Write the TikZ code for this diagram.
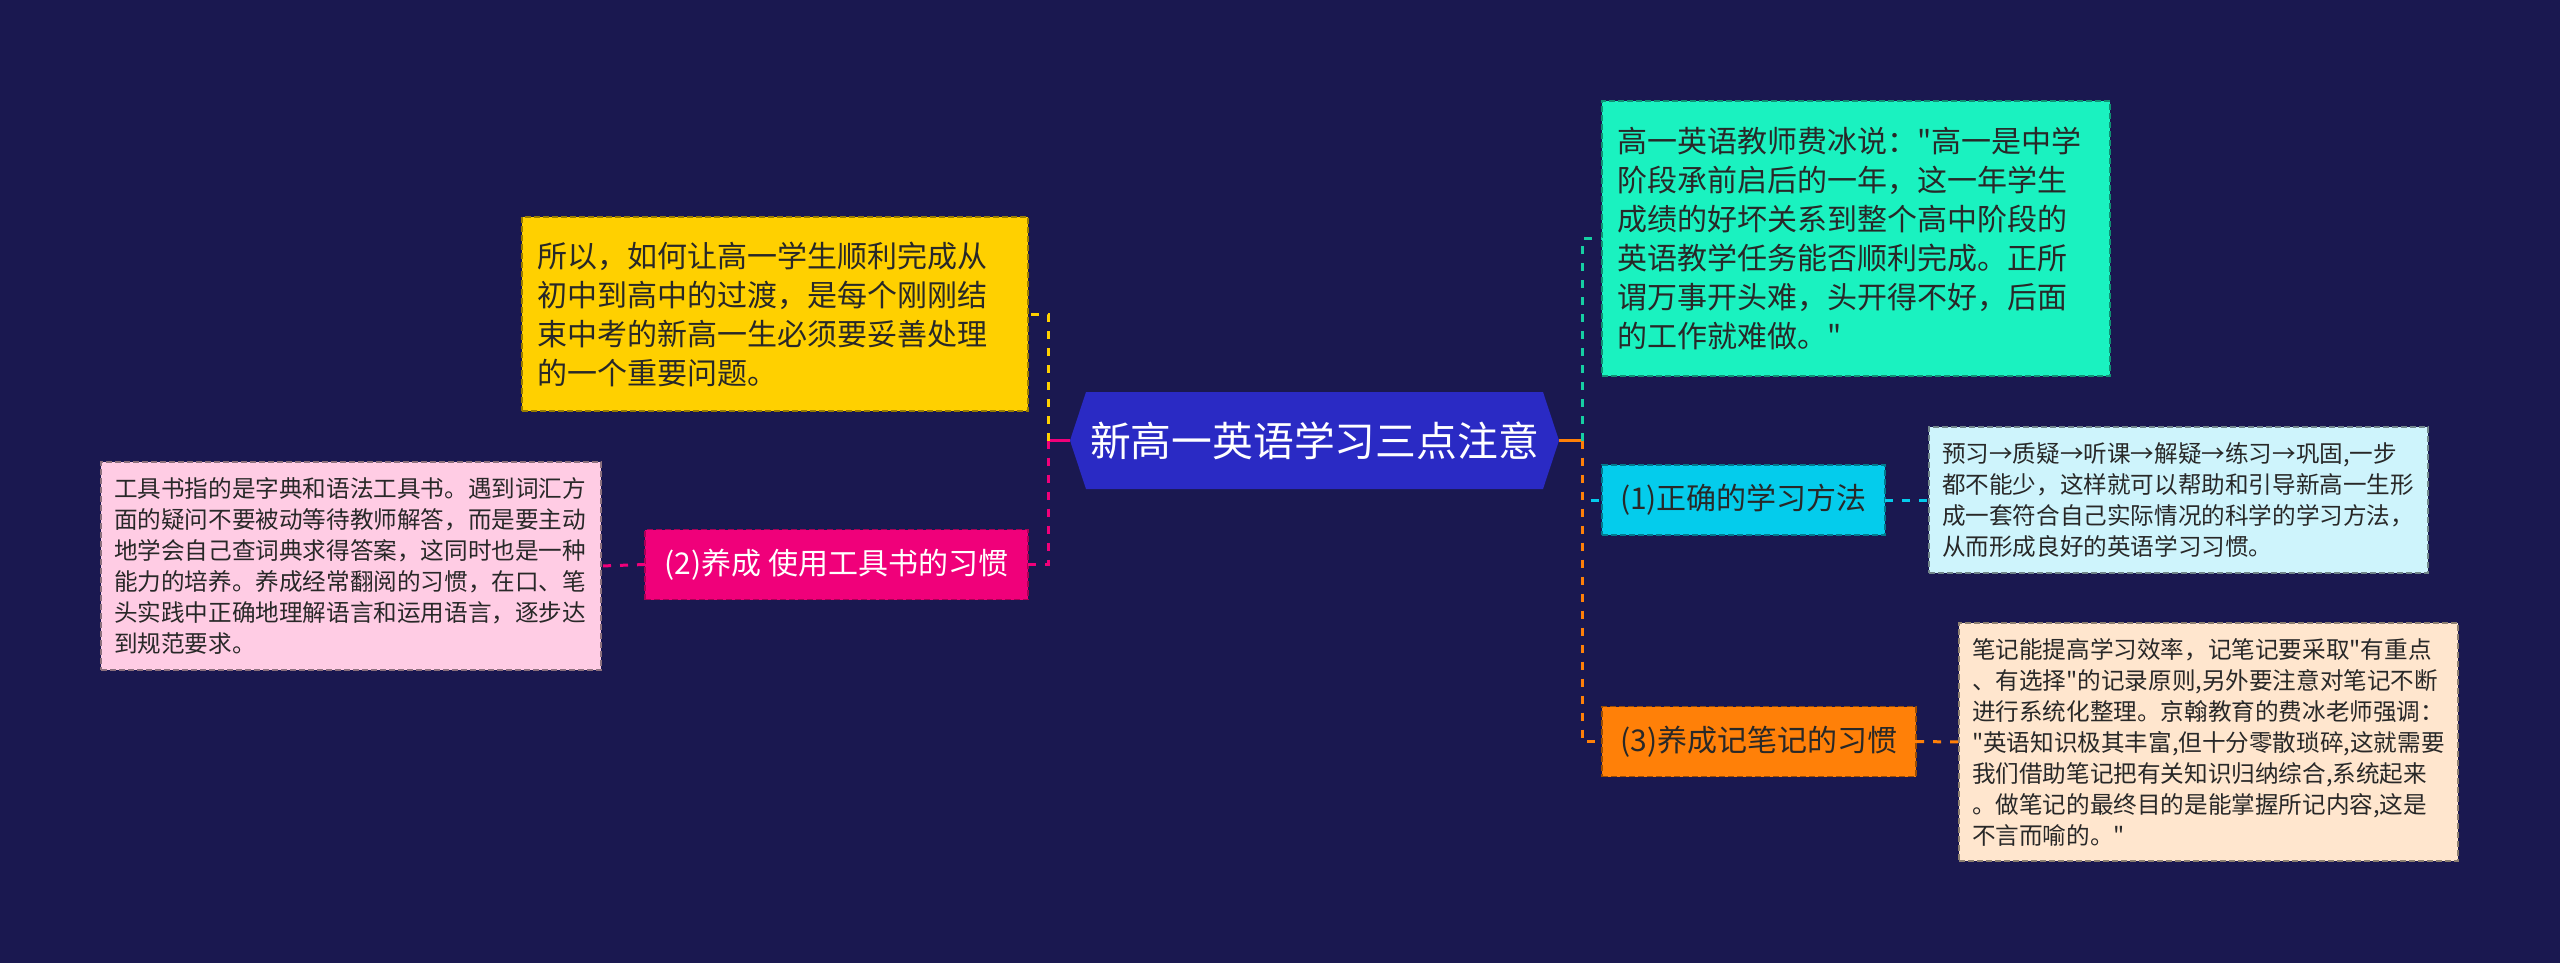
\documentclass[tikz,border=0pt]{standalone}
\usepackage{fontspec}
\setmainfont{Noto Sans CJK SC}[Ligatures=TeXOff]
\usepackage{xcolor}
\usepackage{tikz}
\usetikzlibrary{positioning}
\definecolor{bgcol}{RGB}{26,24,80}
\definecolor{hexcol}{RGB}{42,42,196}
\definecolor{yelcol}{RGB}{255,208,0}
\definecolor{pinkcol}{RGB}{240,0,122}
\definecolor{pinklt}{RGB}{255,204,228}
\definecolor{mintcol}{RGB}{26,242,192}
\definecolor{skycol}{RGB}{4,204,236}
\definecolor{skylt}{RGB}{206,244,252}
\definecolor{orgcol}{RGB}{255,128,8}
\definecolor{peachcol}{RGB}{255,230,206}
\definecolor{inkcol}{RGB}{40,40,40}

\tikzset{
  txtbox/.style={draw, line width=0.7pt, dash pattern=on 3pt off 1.5pt,
    inner xsep=7.5pt, inner ysep=0pt, outer sep=0pt, align=left, text=inkcol},
  bigtxt/.style={font=\fontsize{15pt}{19.5pt}\selectfont},
  smalltxt/.style={font=\fontsize{11.8pt}{15.5pt}\selectfont, inner xsep=6.5pt},
  labbox/.style={draw, line width=0.7pt, dash pattern=on 3pt off 1.5pt,
    minimum height=35pt, inner sep=0pt, outer sep=0pt, align=center,
    font=\fontsize{15pt}{18pt}\selectfont},
  link/.style={line width=1.5pt, dash pattern=on 4pt off 4.5pt},
  stem/.style={line width=1.5pt},
  hexbox/.style={minimum width=244.5pt, minimum height=48.5pt, inner sep=0pt,
    outer sep=0pt, text=white, font=\fontsize{20.4pt}{24pt}\selectfont,
    path picture={\fill[hexcol] (path picture bounding box.west)
      -- ([xshift=8pt]path picture bounding box.north west)
      -- ([xshift=-8pt]path picture bounding box.north east)
      -- (path picture bounding box.east)
      -- ([xshift=-8pt]path picture bounding box.south east)
      -- ([xshift=8pt]path picture bounding box.south west) -- cycle;}},
}

\begin{document}
\begin{tikzpicture}[x=0.5pt,y=-0.5pt]
  \fill[bgcol] (0,0) rectangle (2560,963);

  % centre
  \node[hexbox] (hex) at (1314.5,440.5) {新高一英语学习三点注意};

  % left branch
  \node[txtbox,bigtxt,fill=yelcol,draw=yelcol!60!black,text width=238pt,minimum height=97pt]
    (yel) at (775,314) {所以，如何让高一学生顺利完成从\\初中到高中的过渡，是每个刚刚结\\束中考的新高一生必须要妥善处理\\的一个重要问题。};
  \node[labbox,fill=pinkcol,draw=pinkcol!70!black,text=white,minimum width=191.5pt]
    (lab2) at (836.5,564.5) {(2)养成 使用工具书的习惯};
  \node[txtbox,smalltxt,fill=pinklt,draw=pinklt!55!black,text width=237pt,minimum height=104pt]
    (det2) at (351,566) {工具书指的是字典和语法工具书。遇到词汇方\\面的疑问不要被动等待教师解答，而是要主动\\地学会自己查词典求得答案，这同时也是一种\\能力的培养。养成经常翻阅的习惯，在口、笔\\头实践中正确地理解语言和运用语言，逐步达\\到规范要求。};

  % right branch
  \node[txtbox,bigtxt,fill=mintcol,draw=mintcol!60!black,text width=239pt,minimum height=137.5pt]
    (top) at (1856,238.5) {高一英语教师费冰说："高一是中学\\阶段承前启后的一年，这一年学生\\成绩的好坏关系到整个高中阶段的\\英语教学任务能否顺利完成。正所\\谓万事开头难，头开得不好，后面\\的工作就难做。"};
  \node[labbox,fill=skycol,draw=skycol!60!black,text=inkcol,minimum width=141.5pt]
    (lab1) at (1743.5,500) {(1)正确的学习方法};
  \node[txtbox,smalltxt,fill=skylt,draw=skylt!55!black,text width=236.5pt,minimum height=73pt]
    (det1) at (2178.5,500) {预习→质疑→听课→解疑→练习→巩固,一步\\都不能少，这样就可以帮助和引导新高一生形\\成一套符合自己实际情况的科学的学习方法，\\从而形成良好的英语学习习惯。};
  \node[labbox,fill=orgcol,draw=orgcol!60!black,text=inkcol,minimum width=157pt]
    (lab3) at (1759,741.5) {(3)养成记笔记的习惯};
  \node[txtbox,smalltxt,fill=peachcol,draw=peachcol!55!black,text width=236.5pt,minimum height=119pt]
    (det3) at (2208.5,742) {笔记能提高学习效率，记笔记要采取"有重点\\、有选择"的记录原则,另外要注意对笔记不断\\进行系统化整理。京翰教育的费冰老师强调：\\"英语知识极其丰富,但十分零散琐碎,这就需要\\我们借助笔记把有关知识归纳综合,系统起来\\。做笔记的最终目的是能掌握所记内容,这是\\不言而喻的。"};

  % connectors
  \coordinate (jl) at (1048,440.5);
  \coordinate (jr) at (1582,440.5);
  \draw[stem,pinkcol] (hex.west) -- (jl);
  \draw[link,yelcol] (jl) |- (yel.east);
  \draw[link,pinkcol] (jl) |- (lab2.east);
  \draw[link,pinkcol] (lab2.west) -- (det2.east);
  \draw[stem,orgcol] (hex.east) -- (jr);
  \draw[link,mintcol!85!black] (jr) |- (top.west);
  \draw[link,skycol] (jr) |- (lab1.west);
  \draw[link,orgcol] (jr) |- (lab3.west);
  \draw[link,skycol] (lab1.east) -- (det1.west);
  \draw[link,orgcol] (lab3.east) -- (det3.west);
\end{tikzpicture}
\end{document}
